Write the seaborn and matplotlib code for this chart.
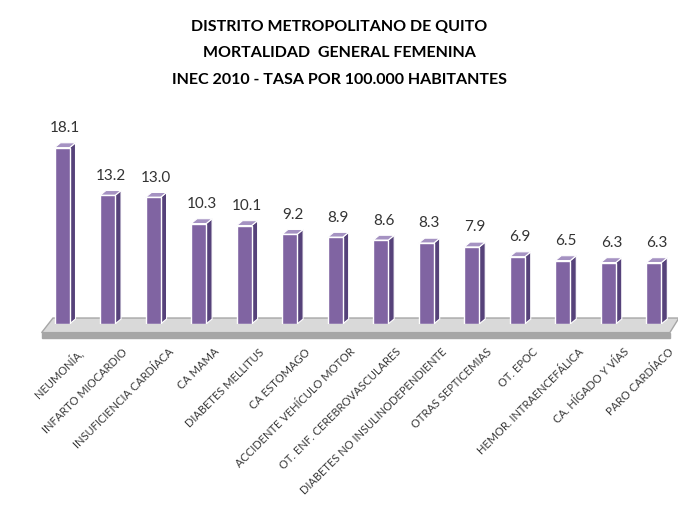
import matplotlib
matplotlib.use("Agg")
import matplotlib.pyplot as plt
from matplotlib.patches import Polygon
import seaborn as sns
import pandas as pd

causas = ["NEUMONÍA,", "INFARTO MIOCARDIO", "INSUFICIENCIA CARDÍACA", "CA MAMA",
          "DIABETES MELLITUS", "CA ESTOMAGO", "ACCIDENTE VEHÍCULO MOTOR",
          "OT. ENF. CEREBROVASCULARES", "DIABETES NO INSULINODEPENDIENTE",
          "OTRAS SEPTICEMIAS", "OT. EPOC", "HEMOR. INTRAENCEFÁLICA",
          "CA. HÍGADO Y VÍAS", "PARO CARDÍACO"]
tasas = [18.1, 13.2, 13.0, 10.3, 10.1, 9.2, 8.9, 8.6, 8.3, 7.9, 6.9, 6.5, 6.3, 6.3]
titulo = ["DISTRITO METROPOLITANO DE QUITO",
          "MORTALIDAD  GENERAL FEMENINA",
          "INEC 2010 - TASA POR 100.000 HABITANTES"]

df = pd.DataFrame({"causa": causas, "tasa": tasas})

sns.set_style("white")
plt.rcParams["font.family"] = ["Lato", "DejaVu Sans"]

fig = plt.figure(figsize=(6.78, 5.10), dpi=100)
ax = fig.add_axes([0.058, 0.363, 0.94, 0.42])

front = "#8064a2"
side = "#56427a"
top = "#a592c2"

sns.barplot(data=df, x="causa", y="tasa", color=front, width=0.33,
            saturation=1, edgecolor="white", linewidth=1.0, ax=ax, zorder=3)

ax.set_xlim(-0.5, len(causas) - 0.5)
ax.set_ylim(0, 22)

# floor slab
floor_top = Polygon([(-0.45, -0.9), (-0.2, 0.6), (13.55, 0.6), (13.35, -0.9)],
                    closed=True, facecolor="#d9d9d9", edgecolor="#a6a6a6",
                    lw=1, zorder=1, clip_on=False)
floor_front = Polygon([(-0.45, -0.9), (13.35, -0.9), (13.35, -1.4), (-0.45, -1.4)],
                      closed=True, facecolor="#a6a6a6", edgecolor="#a6a6a6",
                      lw=1, zorder=1, clip_on=False)
ax.add_patch(floor_top)
ax.add_patch(floor_front)

dx, dy = 0.13, 0.5
for p, v in zip(ax.patches[:len(tasas)], tasas):
    x0, w, h = p.get_x(), p.get_width(), p.get_height()
    ax.add_patch(Polygon([(x0 + w, 0), (x0 + w + dx, dy), (x0 + w + dx, h + dy), (x0 + w, h)],
                         closed=True, facecolor=side, edgecolor="white", lw=0.8, zorder=2))
    ax.add_patch(Polygon([(x0, h), (x0 + dx, h + dy), (x0 + w + dx, h + dy), (x0 + w, h)],
                         closed=True, facecolor=top, edgecolor="white", lw=0.8, zorder=2))
    ax.text(x0 + w / 2 + dx / 2, h + 1.4, f"{v:.1f}", ha="center", va="bottom",
            fontsize=11, color="#333333")

ax.set_xticks(range(len(causas)))
ax.set_xticklabels([])
ax.tick_params(length=0)
for i, c in enumerate(causas):
    ax.text(i + 0.32, -2.2, c, rotation=45, ha="right", va="top",
            rotation_mode="anchor", fontsize=8, color="#3a3a3a")

ax.set_yticks([])
ax.set_xlabel("")
ax.set_ylabel("")
for s in ax.spines.values():
    s.set_visible(False)

for k, line in enumerate(titulo):
    fig.text(0.5, 0.948 - k * 0.052, line, ha="center", va="center",
             fontsize=11.5, fontweight="bold", color="black")

fig.savefig("out.png", dpi=100)
